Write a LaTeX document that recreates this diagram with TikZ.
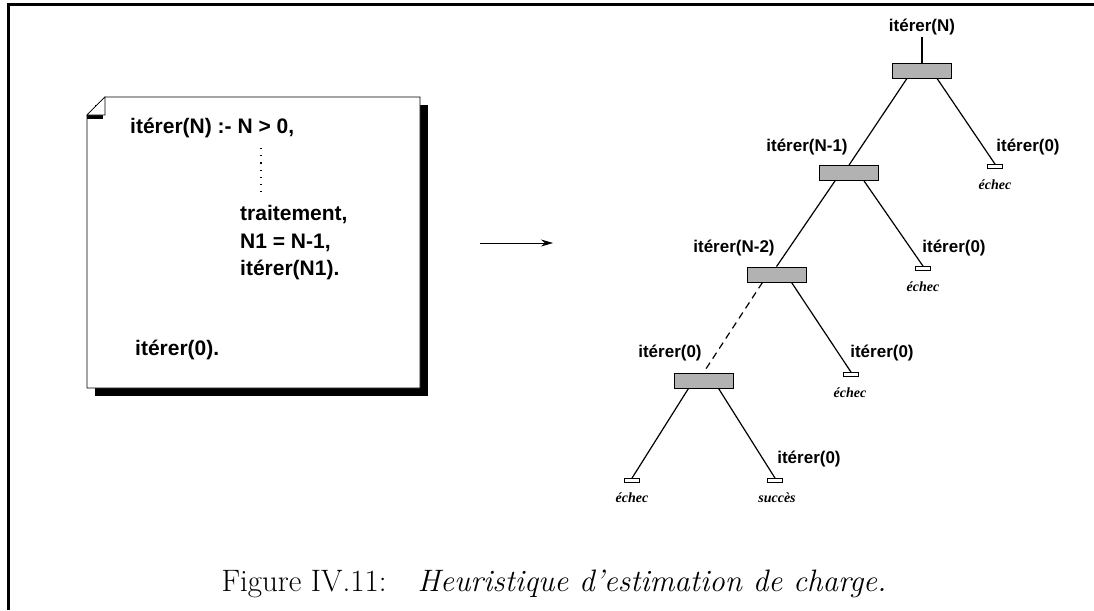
\documentclass[tikz,border=0pt]{standalone}
\usepackage{fontspec}
\newfontfamily\arialfont{Liberation Sans}
\newfontfamily\timesfont{Liberation Serif}
\usetikzlibrary{arrows.meta,positioning}

\begin{document}
\begin{tikzpicture}[x=1pt,y=-1pt,
    goal/.style={draw, fill=black!30, minimum width=59pt, minimum height=15pt, inner sep=0pt, line width=0.8pt},
    leaf/.style={draw, fill=white, minimum width=15pt, minimum height=4pt, inner sep=0pt, line width=0.8pt},
    code/.style={right, inner sep=0pt, font=\arialfont\bfseries\fontsize{21}{25}\selectfont},
    call/.style={inner sep=2pt, font=\arialfont\bfseries\fontsize{17}{20}\selectfont},
    result/.style={inner sep=0pt, font=\timesfont\bfseries\itshape\fontsize{14}{16}\selectfont},
    branch/.style={line width=1.2pt}]
    \useasboundingbox (0,0) rectangle (1094,610);

    % Frame
    \draw[line width=3pt] (8,610) -- (8,5) -- (1094,5);

    % Program sheet with shadow and folded corner
    \fill (95,105) rectangle (428,396);
    \draw[fill=white, line width=0.8pt] (87,115) -- (105,97) -- (420,97) -- (420,388) -- (87,388) -- cycle;
    \fill (87,115) rectangle (103,119);
    \draw[fill=white, line width=0.6pt] (87,115) -- (105,97) -- (105,115) -- cycle;

    \node[code] (head) at (130,128) {itérer(N) :- N > 0,};
    \draw[line width=1.2pt, dash pattern=on 1.2pt off 6pt] (261,148) -- (261,198);
    \node[code] (work) at (240,215) {traitement,};
    \node[code] (decr) at (240,243) {N1 = N-1,};
    \node[code] (rec) at (240,270) {itérer(N1).};
    \node[code] (stop) at (135,350) {itérer(0).};

    % Arrow
    \coordinate (arrS) at (480,243);
    \coordinate (arrE) at (553,243);
    \draw[-{Stealth[length=12pt,width=7pt]}, line width=0.8pt] (arrS) -- (arrE);

    % Search tree
    \node[call] (tN) at (922,27) {itérer(N)};
    \node[goal] (g1) at (922,70.5) {};
    \node[goal] (g2) at (849,173) {};
    \node[goal] (g3) at (776.5,274.5) {};
    \node[goal] (g4) at (703.5,380.5) {};
    \node[leaf] (l1) at (995,166.5) {};
    \node[leaf] (l2) at (923,268.5) {};
    \node[leaf] (l3) at (851,374.5) {};
    \node[leaf] (l4) at (632,480.5) {};
    \node[leaf] (l5) at (775,480.5) {};

    \draw[branch] (tN) -- (g1);
    \draw[branch] ([xshift=-15pt]g1.south) -- (g2.north);
    \draw[branch] ([xshift=15pt]g1.south) -- (l1.north);
    \draw[branch] ([xshift=-14pt]g2.south) -- (g3.north);
    \draw[branch] ([xshift=15pt]g2.south) -- (l2.north);
    \draw[branch, dash pattern=on 7pt off 5pt] ([xshift=-14pt]g3.south) -- (g4.north);
    \draw[branch] ([xshift=15pt]g3.south) -- (l3.north);
    \draw[branch] ([xshift=-15pt]g4.south) -- (l4.north);
    \draw[branch] ([xshift=15pt]g4.south) -- (l5.north);

    \node[call] (c1) at (807,147) {itérer(N-1)};
    \node[call] (c2) at (1028,147) {itérer(0)};
    \node[call] (c3) at (734,248) {itérer(N-2)};
    \node[call] (c4) at (954,248) {itérer(0)};
    \node[call] (c5) at (670,353) {itérer(0)};
    \node[call] (c6) at (882,353) {itérer(0)};
    \node[call] (c7) at (809,459) {itérer(0)};

    \node[result] (r1) at (995,185) {échec};
    \node[result] (r2) at (923,287) {échec};
    \node[result] (r3) at (850,393) {échec};
    \node[result] (r4) at (632,498) {échec};
    \node[result] (r5) at (777,498) {succès};

    % Caption
    \node[font=\fontsize{31}{36}\selectfont] (caption) at (554,584) {Figure IV.11:\quad \textit{Heuristique d'estimation de charge.}};
\end{tikzpicture}
\end{document}
